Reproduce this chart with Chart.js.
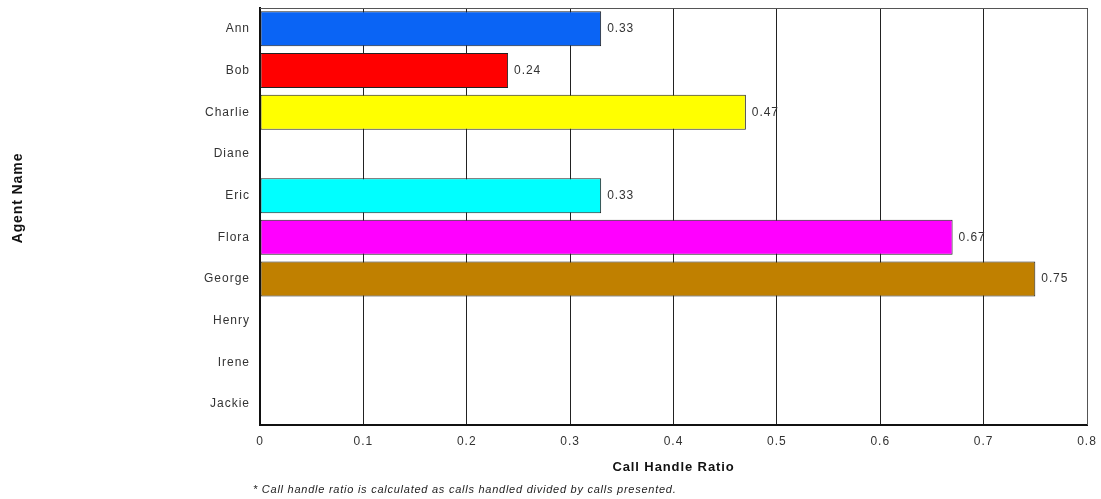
<!DOCTYPE html>
<html><head><meta charset="utf-8">
<script src="https://cdn.jsdelivr.net/npm/chart.js@4"></script>
<style>html,body{margin:0;padding:0;background:#fff;}#wrap{width:1101px;height:499px;}</style>
</head><body><div id="wrap"><canvas id="c" width="1101" height="499"></canvas></div>
<script>
const categories = ["Ann","Bob","Charlie","Diane","Eric","Flora","George","Henry","Irene","Jackie"];
const ratios = [0.33, 0.24, 0.47, null, 0.33, 0.67, 0.75, null, null, null];
const barColors = ["#0A64F5","#FF0000","#FFFF00","#FFFFFF","#00FFFF","#FF00FF","#C08000","#FFFFFF","#FFFFFF","#FFFFFF"];
const xTicks = [0,0.1,0.2,0.3,0.4,0.5,0.6,0.7,0.8];
const xTitle = "Call Handle Ratio";
const yTitle = "Agent Name";
const footnote = "* Call handle ratio is calculated as calls handled divided by calls presented.";

const spacing = {
  id: 'spacing',
  beforeLayout(chart) { chart.ctx.letterSpacing = '1px'; },
  beforeDraw(chart) { chart.ctx.letterSpacing = '1px'; }
};

const extras = {
  id: 'extras',
  afterDatasetsDraw(chart) {
    const ctx = chart.ctx, a = chart.chartArea;
    ctx.save();
    ctx.strokeStyle = '#555'; ctx.lineWidth = 1;
    ctx.beginPath();
    ctx.moveTo(a.left, a.top + 0.5); ctx.lineTo(a.right + 0.5, a.top + 0.5); ctx.lineTo(a.right + 0.5, a.bottom);
    ctx.stroke();
    const meta = chart.getDatasetMeta(0);
    ctx.fillStyle = '#333'; ctx.font = '12px Arial, "Liberation Sans"';
    ctx.letterSpacing = '0.9px';
    ctx.textAlign = 'left'; ctx.textBaseline = 'middle';
    meta.data.forEach((el, i) => {
      const v = ratios[i];
      if (v === null || v === undefined) return;
      ctx.fillText(v.toFixed(2), el.x + 6, el.y);
    });
    ctx.fillStyle = '#111';
    ctx.font = 'bold 13px Arial, "Liberation Sans"';
    ctx.letterSpacing = '0.9px';
    ctx.textAlign = 'center';
    ctx.fillText(xTitle, (a.left + a.right) / 2, 467);
    ctx.save();
    ctx.font = 'bold 14px Arial, "Liberation Sans"';
    ctx.translate(18, 198); ctx.rotate(-Math.PI / 2);
    ctx.fillText(yTitle, 0, 0);
    ctx.restore();
    ctx.font = 'italic 11px Arial, "Liberation Sans"';
    ctx.letterSpacing = '0.75px';
    ctx.fillStyle = '#222';
    ctx.textAlign = 'left';
    ctx.fillText(footnote, 253, 490);
    ctx.restore();
  }
};

new Chart(document.getElementById('c'), {
  type: 'bar',
  data: {
    labels: categories,
    datasets: [{
      data: ratios,
      backgroundColor: barColors,
      borderColor: '#222',
      borderWidth: 1,
      borderSkipped: false,
      barPercentage: 0.84,
      categoryPercentage: 1.0
    }]
  },
  options: {
    indexAxis: 'y',
    responsive: false,
    animation: false,
    devicePixelRatio: 1,
    layout: { padding: 0 },
    plugins: { legend: { display: false }, tooltip: { enabled: false } },
    scales: {
      x: {
        min: 0, max: 0.8,
        afterBuildTicks(scale) { scale.ticks = xTicks.map(v => ({ value: v })); },
        afterFit(scale) { scale.height = 74; scale.paddingLeft = 0; scale.paddingRight = 14; },
        ticks: { color: '#333', font: { family: 'Arial, "Liberation Sans"', size: 12 }, padding: 9,
          callback: (v) => String(Math.round(v * 10) / 10) },
        grid: { color: '#222', lineWidth: 1, drawTicks: false, tickLength: 0 },
        border: { color: '#111', width: 2 }
      },
      y: {
        afterFit(scale) { scale.width = 260; scale.paddingTop = 8; scale.paddingBottom = 0; },
        ticks: { color: '#333', font: { family: 'Arial, "Liberation Sans"', size: 12 }, padding: 10 },
        grid: { display: false, drawTicks: false },
        border: { color: '#111', width: 2 }
      }
    }
  },
  plugins: [spacing, extras]
});
</script></body></html>
